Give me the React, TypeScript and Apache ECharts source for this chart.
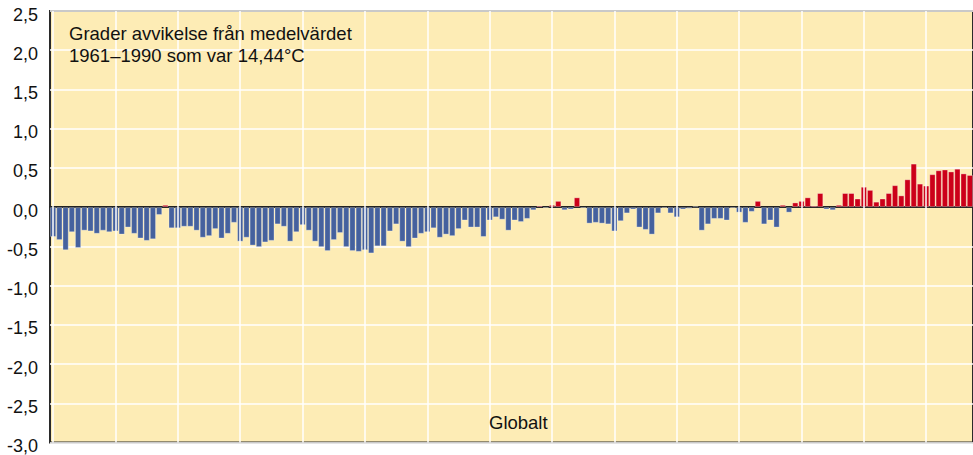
import React, { useEffect, useRef } from "react";
import * as echarts from "echarts";

const YEARS: string[] = [];
for (let y = 1860; y <= 2007; y++) YEARS.push(String(y));

const ANOMALY: number[] = [
  // 1860-1869
  -0.38, -0.42, -0.55, -0.32, -0.52, -0.30, -0.31, -0.34, -0.30, -0.32,
  // 1870-1879
  -0.31, -0.35, -0.26, -0.34, -0.40, -0.43, -0.41, -0.10, 0.03, -0.27,
  // 1880-1889
  -0.27, -0.25, -0.25, -0.30, -0.39, -0.37, -0.28, -0.40, -0.34, -0.20,
  // 1890-1899
  -0.44, -0.39, -0.49, -0.51, -0.45, -0.43, -0.22, -0.25, -0.44, -0.32,
  // 1900-1909
  -0.23, -0.30, -0.44, -0.51, -0.56, -0.42, -0.33, -0.51, -0.56, -0.57,
  // 1910-1919
  -0.55, -0.59, -0.50, -0.50, -0.31, -0.22, -0.44, -0.51, -0.40, -0.34,
  // 1920-1929
  -0.32, -0.27, -0.39, -0.35, -0.37, -0.28, -0.17, -0.26, -0.26, -0.38,
  // 1930-1939
  -0.17, -0.13, -0.16, -0.30, -0.17, -0.19, -0.15, -0.04, 0.02, -0.01,
  // 1940-1949
  0.03, 0.08, -0.04, -0.03, 0.125, -0.01, -0.21, -0.20, -0.21, -0.22,
  // 1950-1959
  -0.31, -0.18, -0.08, -0.03, -0.26, -0.29, -0.35, -0.08, -0.01, -0.08,
  // 1960-1969
  -0.13, -0.03, -0.02, 0.01, -0.30, -0.22, -0.15, -0.15, -0.17, -0.01,
  // 1970-1979
  -0.07, -0.20, -0.06, 0.08, -0.22, -0.17, -0.26, 0.03, -0.07, 0.06,
  // 1980-1989
  0.08, 0.125, 0.02, 0.18, -0.03, -0.04, 0.03, 0.18, 0.18, 0.11,
  // 1990-1999
  0.26, 0.22, 0.07, 0.11, 0.18, 0.28, 0.15, 0.355, 0.555, 0.30,
  // 2000-2007
  0.275, 0.42, 0.47, 0.48, 0.455, 0.49, 0.43, 0.41,
];

const DECADES = ["1860", "1870", "1880", "1890", "1900", "1910", "1920", "1930", "1940", "1950", "1960", "1970", "1980", "1990", "2000"];

const TITLE_LINES = ["Grader avvikelse från medelvärdet", "1961–1990 som var 14,44°C"];
const REGION_LABEL = "Globalt";

const FONT = "'Liberation Sans', Arial, Helvetica, sans-serif";
const BLUE = "#45619e";
const RED = "#cc0019";

export default function App() {
  const ref = useRef<HTMLDivElement>(null);
  useEffect(() => {
    if (!ref.current) return;
    const chart = echarts.init(ref.current, undefined, { renderer: "svg" });
    chart.setOption({
      animation: false,
      backgroundColor: "#ffffff",
      grid: {
        left: 50,
        top: 11,
        width: 925,
        height: 440,
        show: true,
        backgroundColor: "#fdecb5",
        borderColor: "#2a2a2a",
        borderWidth: 2,
      },
      xAxis: {
        type: "category",
        data: YEARS,
        boundaryGap: true,
        axisLine: { show: true, onZero: true, lineStyle: { color: "#222", width: 2 } },
        axisTick: { show: false },
        axisLabel: { show: false },
        splitLine: { show: false },
      },
      yAxis: {
        type: "value",
        min: -3,
        max: 2.5,
        interval: 0.5,
        axisLine: { show: false },
        axisTick: { show: false },
        axisLabel: {
          margin: 12,
          formatter: (v: number) => `{v|${v.toFixed(1).replace(".", ",")}}`,
          rich: {
            v: {
              fontFamily: FONT,
              fontSize: 18,
              color: "#111",
              padding: [7, 0, 0, 0],
            },
          },
        },
        splitLine: { show: true, lineStyle: { color: "#ffffff", width: 1.5 } },
      },
      series: [
        {
          type: "line",
          data: YEARS.map(() => null),
          showSymbol: false,
          silent: true,
          z: 1,
          markLine: {
            silent: true,
            symbol: "none",
            label: { show: false },
            lineStyle: { color: "#ffffff", width: 1.5, type: "solid" },
            data: DECADES.map((d) => ({ xAxis: d })),
          },
        },
        {
          type: "bar",
          data: ANOMALY,
          barCategoryGap: "0%",
          z: 3,
          itemStyle: {
            color: (p: any) => (p.value >= 0 ? RED : BLUE),
            borderColor: "rgba(255,255,255,0.3)",
            borderWidth: 1,
          },
        },
      ],
      graphic: [
        {
          type: "text",
          left: 69,
          top: 22,
          style: {
            text: TITLE_LINES.join("\n"),
            font: `18.5px ${FONT}`,
            lineHeight: 22,
            fill: "#111",
          },
          z: 10,
        },
        {
          type: "text",
          left: 489,
          top: 413,
          style: {
            text: REGION_LABEL,
            font: `18.5px ${FONT}`,
            fill: "#111",
          },
          z: 10,
        },
      ],
    });
    return () => chart.dispose();
  }, []);
  return (
    <div
      ref={ref}
      style={{ position: "fixed", left: 0, top: 0, width: 973, height: 455 }}
    />
  );
}
